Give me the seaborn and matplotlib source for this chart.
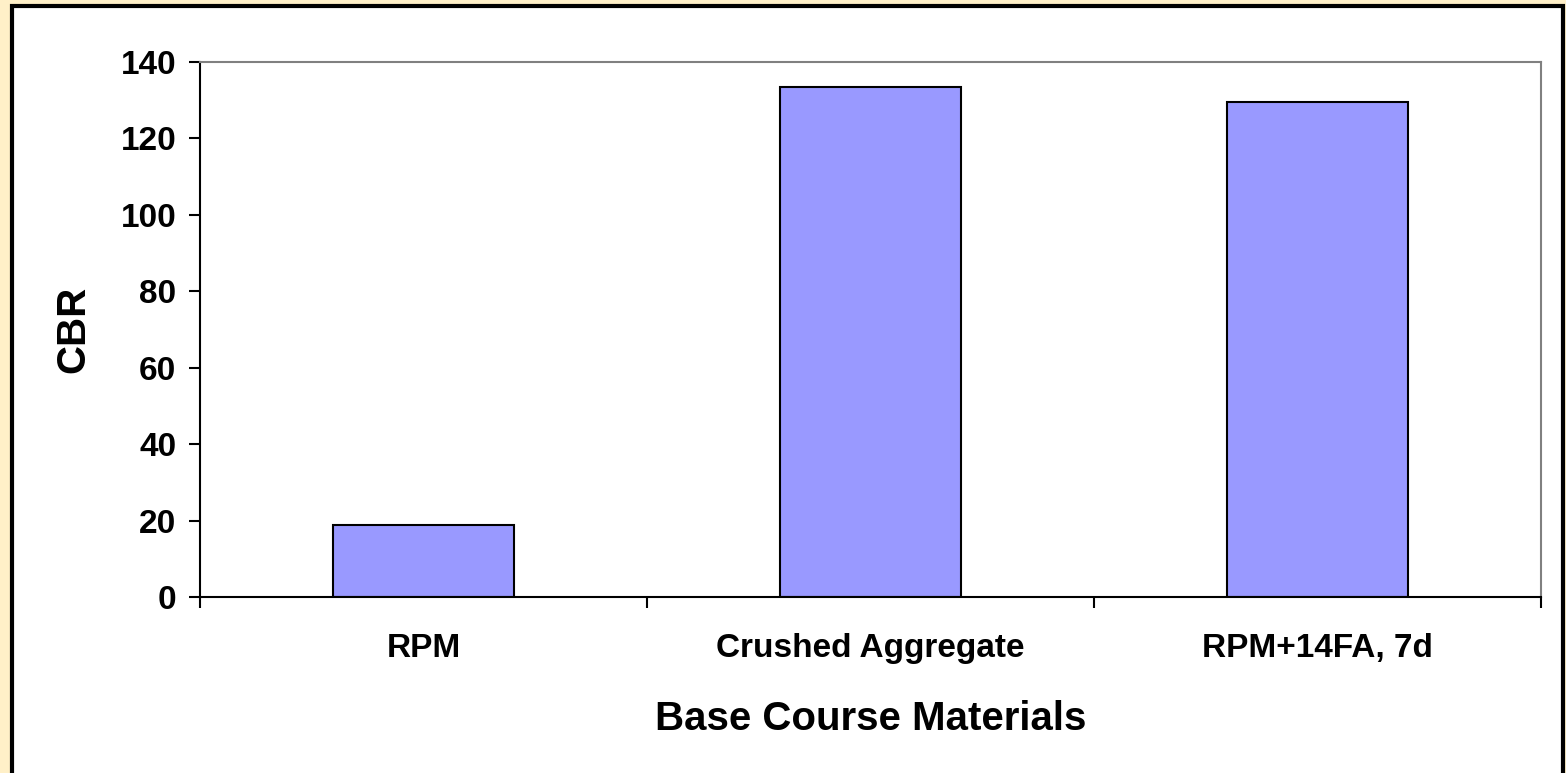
import matplotlib
matplotlib.use("Agg")
import matplotlib.pyplot as plt
from matplotlib.patches import Rectangle
import seaborn as sns
import pandas as pd

categories = ["RPM", "Crushed Aggregate", "RPM+14FA, 7d"]
cbr_values = [18.8, 133.5, 129.5]
y_ticks = [0, 20, 40, 60, 80, 100, 120, 140]

sns.set_theme(style="white")
plt.rcParams["font.family"] = ["Liberation Sans", "DejaVu Sans"]
plt.rcParams["font.weight"] = "bold"
plt.rcParams["text.color"] = "black"
plt.rcParams["axes.labelcolor"] = "black"
plt.rcParams["xtick.color"] = "black"
plt.rcParams["ytick.color"] = "black"

W, H = 1566, 773
fig = plt.figure(figsize=(W / 100, H / 100), dpi=100)
fig.patch.set_facecolor("#FFF0C8")

# white framed panel
fig.add_artist(Rectangle((12 / W, -0.05), (1563 - 12) / W, 1.05 - 6 / H,
                         transform=fig.transFigure, facecolor="white",
                         edgecolor="black", linewidth=3, zorder=0))

ax = fig.add_axes([200 / W, 1 - 597 / H, (1541 - 200) / W, (597 - 62) / H])
ax.set_facecolor("white")

df = pd.DataFrame({"material": categories, "cbr": cbr_values})
sns.barplot(data=df, x="material", y="cbr", ax=ax, color="#9999FF",
            saturation=1, width=0.405, edgecolor="black", linewidth=1.5)

ax.set_ylim(0, 140)
ax.set_xlim(-0.5, 2.5)
ax.set_yticks(y_ticks)
ax.set_yticklabels([str(v) for v in y_ticks], fontsize=24, fontweight="bold",
                   color="black")

# tick marks between categories, labels at category centres
ax.set_xticks([-0.5, 0.5, 1.5, 2.5])
ax.set_xticklabels([])
ax.set_xticks([0, 1, 2], minor=True)
ax.set_xticklabels(categories, minor=True, fontsize=24, fontweight="bold",
                   color="black")
ax.tick_params(axis="x", which="major", direction="out", length=8, width=1.5,
               color="black", bottom=True)
ax.tick_params(axis="x", which="minor", length=0, pad=26)
ax.tick_params(axis="y", direction="out", length=8, width=1.5, color="black",
               left=True, pad=9)

for side in ["left", "bottom"]:
    ax.spines[side].set_color("black")
    ax.spines[side].set_linewidth(1.5)
for side in ["top", "right"]:
    ax.spines[side].set_color("#808080")
    ax.spines[side].set_linewidth(1.5)

ax.set_xlabel("Base Course Materials", fontsize=29, fontweight="bold",
              labelpad=26, color="black")
ax.set_ylabel("CBR", fontsize=29, fontweight="bold", labelpad=20,
              color="black")

fig.savefig("out.png", dpi=100, facecolor=fig.get_facecolor())
